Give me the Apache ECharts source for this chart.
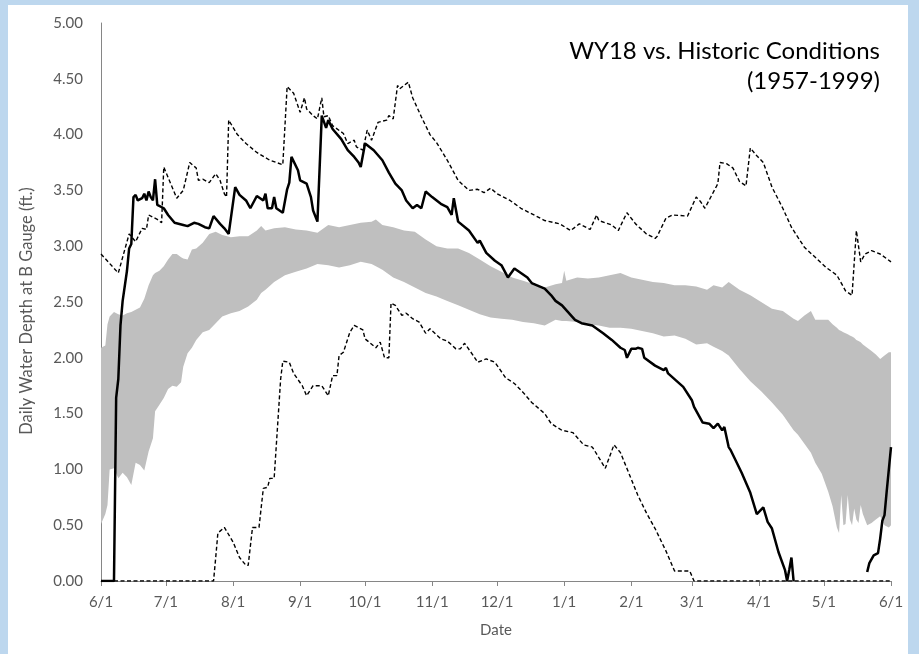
<!DOCTYPE html>
<html>
<head>
<meta charset="utf-8">
<script src="https://cdn.jsdelivr.net/npm/echarts@6/dist/echarts.min.js"></script>
<style>
html,body{margin:0;padding:0;background:#bdd7ee;}
#panel{position:absolute;left:8px;top:5px;width:900px;height:649px;background:#ffffff;}
#chart{position:absolute;left:0;top:0;width:919px;height:654px;}
</style>
</head>
<body>
<div id="panel"></div>
<div id="chart"></div>
<script>
// X axis: days since 6/1 (0..365), labels at month starts
const tickDays = [0, 30, 61, 92, 122, 153, 183, 214, 245, 273, 304, 334, 365];
const tickLabels = ['6/1','7/1','8/1','9/1','10/1','11/1','12/1','1/1','2/1','3/1','4/1','5/1','6/1'];
const yTicks = { min: 0, max: 5, step: 0.5 };

// Historic band (interquartile-like range), read at common days
const bandDays = [0,2,3,4,6,8,10,12,14,16,18,20,22,24,25,27,29,31,33,35,37,38,40,42,44,47,50,53,56,60,64,68,72,74,76,80,85,90,95,100,105,110,115,120,125,127,130,135,140,145,150,155,160,165,170,175,180,185,190,195,200,205,210,213,214,215,220,225,230,235,240,245,250,255,260,265,270,275,280,283,287,290,295,300,305,310,315,320,322,325,328,330,333,336,338,340,341,342,343,344,345,346,347,348,349,350,351,352,354,356,358,360,362,364,365];
const bandUpper = [2.09,2.11,2.30,2.37,2.41,2.39,2.38,2.40,2.41,2.43,2.45,2.53,2.65,2.74,2.76,2.78,2.82,2.88,2.93,2.93,2.90,2.89,2.88,2.97,2.98,3.03,3.11,3.13,3.10,3.08,3.09,3.09,3.14,3.18,3.14,3.16,3.17,3.15,3.14,3.12,3.19,3.17,3.19,3.21,3.22,3.24,3.19,3.17,3.14,3.13,3.06,3.00,2.98,2.98,2.94,2.88,2.82,2.77,2.72,2.69,2.66,2.63,2.66,2.67,2.78,2.69,2.72,2.71,2.72,2.74,2.76,2.72,2.70,2.68,2.67,2.65,2.65,2.64,2.61,2.65,2.63,2.68,2.61,2.56,2.50,2.44,2.42,2.35,2.33,2.38,2.42,2.34,2.34,2.34,2.30,2.27,2.25,2.24,2.23,2.22,2.21,2.20,2.19,2.18,2.16,2.15,2.14,2.12,2.09,2.06,2.03,1.99,2.02,2.05,2.05];
const bandLower = [0.51,0.60,0.68,1.00,1.01,0.92,0.97,0.93,0.86,1.06,1.04,0.99,1.16,1.28,1.52,1.58,1.64,1.72,1.75,1.74,1.78,1.92,2.04,2.09,2.16,2.23,2.25,2.31,2.37,2.40,2.42,2.46,2.52,2.58,2.61,2.68,2.74,2.77,2.80,2.84,2.83,2.81,2.83,2.86,2.84,2.82,2.79,2.72,2.68,2.63,2.58,2.55,2.51,2.47,2.43,2.39,2.36,2.35,2.34,2.32,2.31,2.29,2.34,2.33,2.33,2.33,2.32,2.30,2.29,2.27,2.27,2.26,2.24,2.22,2.19,2.20,2.17,2.12,2.13,2.10,2.06,2.02,1.90,1.79,1.70,1.60,1.49,1.35,1.31,1.23,1.15,1.06,0.96,0.80,0.67,0.48,0.43,0.77,0.50,0.51,0.77,0.55,0.50,0.65,0.55,0.52,0.68,0.60,0.50,0.52,0.55,0.58,0.50,0.48,0.50];

// Historic maximum (dashed)
const maxDays = [0,8,13,16,19,21,22,26,28,29,35,38,41,44,45,47,50,53,55,57,58,59,63,67,72,78,84,86,89,92,94,95,98,100,102,103,105,107,112,114,117,118,121,123,125,128,132,133,135,137,138,142,144,148,152,155,160,165,170,174,177,180,183,189,194,198,205,212,217,221,226,229,230,236,239,243,247,252,256,257,261,264,271,275,277,279,282,285,286,289,292,295,298,300,303,306,310,315,319,325,330,335,340,344,347,349,351,353,356,360,365];
const maxVals = [2.93,2.76,3.11,3.04,3.16,3.15,3.28,3.24,3.21,3.71,3.43,3.50,3.75,3.70,3.59,3.60,3.57,3.65,3.59,3.47,3.44,4.13,4.00,3.92,3.84,3.77,3.73,4.43,4.37,4.20,4.33,4.23,4.17,4.14,4.33,4.16,4.17,4.08,4.01,3.92,3.95,3.89,3.86,4.04,3.95,4.11,4.13,4.17,4.14,4.44,4.41,4.47,4.33,4.16,4.00,3.93,3.77,3.59,3.50,3.51,3.48,3.52,3.47,3.41,3.34,3.30,3.23,3.20,3.14,3.20,3.15,3.28,3.23,3.19,3.14,3.30,3.20,3.11,3.07,3.09,3.25,3.28,3.27,3.44,3.40,3.34,3.45,3.56,3.75,3.74,3.70,3.58,3.54,3.88,3.81,3.75,3.53,3.34,3.17,2.99,2.90,2.81,2.74,2.60,2.56,3.14,2.86,2.93,2.96,2.93,2.86];

// Historic minimum (dashed)
const minDays = [0,52,53,54,57,61,64,67,68,70,73,75,77,78,80,83,84,87,89,93,95,98,102,105,107,109,110,112,115,117,121,122,127,129,131,133,134,136,139,141,144,147,150,152,157,160,164,166,168,172,174,178,182,187,191,195,199,205,208,213,218,223,227,228,233,237,240,244,248,252,256,261,265,272,274,365];
const minVals = [0,0,0.21,0.43,0.48,0.35,0.21,0.14,0.14,0.48,0.48,0.83,0.84,0.92,0.92,1.81,1.97,1.96,1.86,1.75,1.66,1.75,1.75,1.66,1.84,1.84,2.02,2.05,2.23,2.29,2.25,2.17,2.09,2.14,2.00,2.00,2.49,2.47,2.38,2.40,2.35,2.32,2.22,2.26,2.17,2.15,2.08,2.08,2.13,2.02,1.96,1.99,1.96,1.82,1.77,1.69,1.60,1.50,1.41,1.35,1.33,1.22,1.20,1.17,1.01,1.22,1.15,0.96,0.77,0.61,0.47,0.27,0.09,0.09,0,0];

// WY18 daily depth (solid); null = no data
const wy18Days = [0,5,6,7,8,9,10,12,13,14,15,16,17,19,20,21,22,23,24,25,26,29,31,34,38,40,43,45,48,50,52,55,57,59,62,64,67,69,72,75,76,77,79,80,81,84,86,87,88,91,92,95,97,98,100,102,104,105,107,111,114,117,119,120,122,126,130,133,136,139,141,144,146,148,150,153,157,160,162,163,165,170,174,175,178,182,185,188,191,197,199,205,208,210,213,219,222,227,232,236,240,242,243,245,247,248,250,251,256,260,261,262,269,273,274,278,281,283,285,287,288,290,291,296,300,303,306,308,310,313,316,317,318,319,320,321,354,355,357,359,360,361,362,363,365];
const wy18Vals = [0,0,0,1.64,1.81,2.29,2.51,2.78,2.98,3.02,3.44,3.46,3.41,3.43,3.47,3.41,3.49,3.44,3.41,3.60,3.37,3.34,3.28,3.21,3.19,3.18,3.21,3.20,3.17,3.16,3.27,3.20,3.16,3.11,3.53,3.46,3.41,3.34,3.45,3.41,3.47,3.34,3.34,3.44,3.34,3.30,3.51,3.57,3.80,3.68,3.59,3.56,3.44,3.32,3.22,4.17,4.06,4.13,4.05,3.96,3.86,3.80,3.75,3.71,3.92,3.86,3.77,3.66,3.56,3.50,3.41,3.34,3.37,3.34,3.49,3.44,3.38,3.35,3.28,3.43,3.22,3.14,3.03,3.05,2.94,2.87,2.83,2.72,2.80,2.72,2.67,2.62,2.56,2.51,2.47,2.34,2.31,2.29,2.22,2.16,2.09,2.07,2.00,2.08,2.08,2.09,2.08,2.00,1.93,1.89,1.91,1.86,1.74,1.62,1.56,1.42,1.41,1.37,1.41,1.35,1.38,1.20,1.17,0.97,0.79,0.60,0.66,0.53,0.47,0.26,0.10,0,0.10,0.21,0,null,0.08,0.16,0.23,0.25,0.38,0.54,0.59,0.80,1.20];

const categories = [];
for (let d = 0; d <= 365; d++) categories.push(String(d));
const pairs = (xs, ys) => xs.map((x, i) => [x, ys[i]]);
const bandDiff = bandUpper.map((u, i) => +(u - bandLower[i]).toFixed(3));

const FONT = 'Lato, "Open Sans", sans-serif';
const chart = echarts.init(document.getElementById('chart'), null, { renderer: 'canvas' });
chart.setOption({
  backgroundColor: 'transparent',
  animation: false,
  grid: { left: 101, right: 28, top: 23, bottom: 73, containLabel: false },
  graphic: [{
    type: 'text', x: 880, y: 36, z: 10,
    style: {
      text: 'WY18 vs. Historic Conditions\n(1957-1999)',
      align: 'right', verticalAlign: 'top',
      font: '24px ' + FONT, lineHeight: 30, fill: '#000000'
    }
  }, {
    type: 'text', x: 27, y: 311, rotation: Math.PI / 2, z: 10,
    style: {
      text: 'Daily Water Depth at B Gauge (ft.)',
      align: 'center', verticalAlign: 'middle',
      font: '16.5px ' + FONT, fill: '#595959'
    }
  }],
  xAxis: {
    type: 'category', data: categories, boundaryGap: false,
    name: 'Date', nameLocation: 'middle', nameGap: 42,
    nameTextStyle: { color: '#595959', fontSize: 15, fontFamily: FONT },
    axisLine: { show: true, lineStyle: { color: '#868686', width: 1 } },
    axisTick: { show: true, inside: false, length: 5, interval: (i) => tickDays.includes(i), lineStyle: { color: '#868686' } },
    axisLabel: {
      show: true, interval: (i) => tickDays.includes(i), margin: 14,
      color: '#595959', fontSize: 15, fontFamily: FONT,
      formatter: (v, i) => { const k = tickDays.indexOf(Number(v)); return k >= 0 ? tickLabels[k] : ''; }
    },
    splitLine: { show: false }
  },
  yAxis: {
    type: 'value', min: yTicks.min, max: yTicks.max, interval: yTicks.step,
    axisLine: { show: true, lineStyle: { color: '#868686', width: 1 } },
    axisTick: { show: false },
    axisLabel: { color: '#595959', fontSize: 15, fontFamily: FONT, margin: 18, formatter: (v) => v.toFixed(2) },
    splitLine: { show: false }
  },
  series: [
    { name: 'bandLow', type: 'line', stack: 'band', data: pairs(bandDays, bandLower), symbol: 'none',
      lineStyle: { width: 0, opacity: 0 }, silent: true, z: 1 },
    { name: 'bandRange', type: 'line', stack: 'band', data: pairs(bandDays, bandDiff), symbol: 'none',
      lineStyle: { width: 0, opacity: 0 }, areaStyle: { color: '#bfbfbf', opacity: 1 }, silent: true, z: 1 },
    { name: 'Max', type: 'line', data: pairs(maxDays, maxVals), symbol: 'none',
      lineStyle: { color: '#000', width: 1.4, type: [4, 2.5] }, z: 3 },
    { name: 'Min', type: 'line', data: pairs(minDays, minVals), symbol: 'none',
      lineStyle: { color: '#000', width: 1.4, type: [4, 2.5] }, z: 3 },
    { name: 'WY18', type: 'line', data: pairs(wy18Days, wy18Vals), symbol: 'none', connectNulls: false,
      lineStyle: { color: '#000', width: 2.5 }, z: 4 }
  ]
});
</script>
</body>
</html>
